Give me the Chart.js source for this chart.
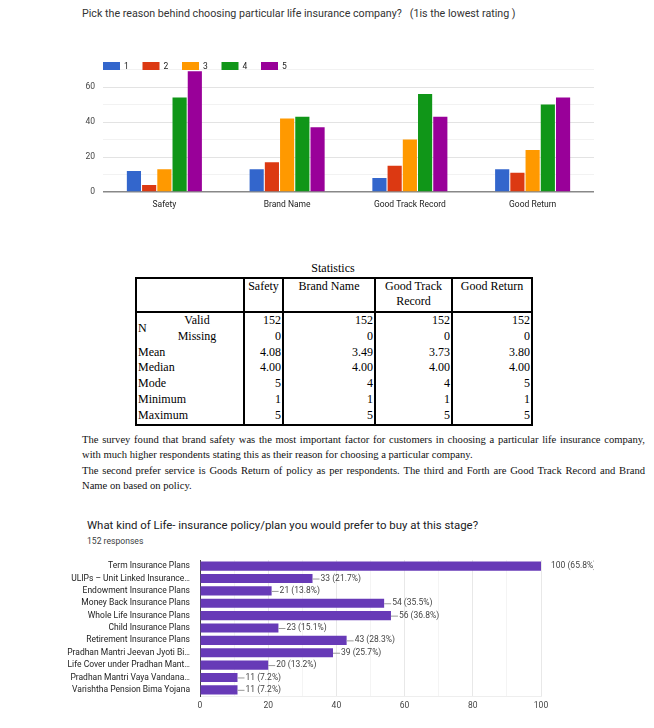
<!DOCTYPE html>
<html>
<head>
<meta charset="utf-8">
<script src="https://cdn.jsdelivr.net/npm/chart.js@4.4.1/dist/chart.umd.min.js"></script>
<style>
    body {
        margin: 0;
        width: 654px;
        height: 728px;
        position: relative;
        overflow: hidden;
        background: #fff;
        font-family: Roboto, sans-serif;
    }

    #rating-title {
        position: absolute;
        left: 82px;
        top: 7px;
        font-size: 10.7px;
        color: #333;
        white-space: pre;
    }

    #rating-chart {
        position: absolute;
        left: 60px;
        top: 40px;
    }

    #stats-caption {
        position: absolute;
        left: 135px;
        width: 396px;
        top: 261px;
        text-align: center;
        font: 12px "Liberation Serif", serif;
    }

    #stats {
        position: absolute;
        left: 135px;
        top: 277px;
        width: 396px;
        border-collapse: collapse;
        border: 2px solid #000;
        font: 12px "Liberation Serif", serif;
        table-layout: fixed;
    }

    #stats td {
        padding: 0 1px;
        height: 15.8px;
        line-height: 15.8px;
        text-align: right;
        vertical-align: middle;
    }

    #stats thead td {
        text-align: center;
        vertical-align: top;
        line-height: 15px;
        height: 32px;
        padding-top: 0;
        border-bottom: 2px solid #000;
    }

    #stats .sep {
        border-left: 2px solid #000;
    }

    #stats td.lbl {
        text-align: left;
    }

    #stats td.sub {
        text-align: center;
    }

    #summary {
        position: absolute;
        left: 82px;
        top: 432px;
        width: 563px;
        font: 10.6px "Liberation Serif", serif;
        line-height: 15.3px;
        color: #111;
    }

    #summary span {
        display: block;
        white-space: nowrap;
    }

    #summary .just {
        text-align: justify;
        text-align-last: justify;
    }

    #plan-title {
        position: absolute;
        left: 87px;
        top: 518px;
        font-size: 11.4px;
        color: #202124;
    }

    #plan-count {
        position: absolute;
        left: 87px;
        top: 536px;
        font-size: 8.6px;
        color: #3c4043;
    }

    #plan-chart {
        position: absolute;
        left: 60px;
        top: 552px;
    }
</style>
</head>
<body>

<div id="rating-title">Pick the reason behind choosing particular life insurance company?   (1is the lowest rating )</div>
<canvas id="rating-chart" width="540" height="180"></canvas>

<div id="stats-caption">Statistics</div>
<table id="stats">
    <colgroup>
        <col style="width:15px">
        <col style="width:93px">
        <col style="width:39px">
        <col style="width:92px">
        <col style="width:77px">
        <col style="width:80px">
    </colgroup>
    <thead>
        <tr>
            <td colspan="2"></td>
            <td class="sep">Safety</td>
            <td class="sep">Brand Name</td>
            <td class="sep">Good Track Record</td>
            <td class="sep">Good Return</td>
        </tr>
    </thead>
    <tbody>
        <tr>
            <td class="lbl" rowspan="2">N</td>
            <td class="sub">Valid</td>
            <td class="sep">152</td><td class="sep">152</td><td class="sep">152</td><td class="sep">152</td>
        </tr>
        <tr>
            <td class="sub">Missing</td>
            <td class="sep">0</td><td class="sep">0</td><td class="sep">0</td><td class="sep">0</td>
        </tr>
        <tr>
            <td class="lbl" colspan="2">Mean</td>
            <td class="sep">4.08</td><td class="sep">3.49</td><td class="sep">3.73</td><td class="sep">3.80</td>
        </tr>
        <tr>
            <td class="lbl" colspan="2">Median</td>
            <td class="sep">4.00</td><td class="sep">4.00</td><td class="sep">4.00</td><td class="sep">4.00</td>
        </tr>
        <tr>
            <td class="lbl" colspan="2">Mode</td>
            <td class="sep">5</td><td class="sep">4</td><td class="sep">4</td><td class="sep">5</td>
        </tr>
        <tr>
            <td class="lbl" colspan="2">Minimum</td>
            <td class="sep">1</td><td class="sep">1</td><td class="sep">1</td><td class="sep">1</td>
        </tr>
        <tr>
            <td class="lbl" colspan="2">Maximum</td>
            <td class="sep">5</td><td class="sep">5</td><td class="sep">5</td><td class="sep">5</td>
        </tr>
    </tbody>
</table>

<div id="summary">
    <span class="just">The survey found that brand safety was the most important factor for customers in choosing a particular life insurance company,</span>
    <span>with much higher respondents stating this as their reason for choosing a particular company.</span>
    <span class="just">The second prefer service is Goods Return of policy as per respondents. The third and Forth are Good Track Record and Brand</span>
    <span>Name on based on policy.</span>
</div>

<div id="plan-title">What kind of Life- insurance policy/plan you would prefer to buy at this stage?</div>
<div id="plan-count">152 responses</div>
<canvas id="plan-chart" width="534" height="168"></canvas>

<script>
// rating question: counts per rating for each factor
const factors = ["Safety", "Brand Name", "Good Track Record", "Good Return"];
const ratingNames = ["1", "2", "3", "4", "5"];
const rating1 = [12, 13, 8, 13];
const rating2 = [4, 17, 15, 11];
const rating3 = [13, 42, 30, 24];
const rating4 = [54, 43, 56, 50];
const rating5 = [69, 37, 43, 54];
const ratingColors = ["#3366cc", "#dc3912", "#ff9900", "#109618", "#990099"];
const ratingTicks = [0, 20, 40, 60];

// plan question
const planLabels = [
    "Term Insurance Plans",
    "ULIPs \u2013 Unit Linked Insurance\u2026",
    "Endowment Insurance Plans",
    "Money Back Insurance Plans",
    "Whole Life Insurance Plans",
    "Child Insurance Plans",
    "Retirement Insurance Plans",
    "Pradhan Mantri Jeevan Jyoti Bi\u2026",
    "Life Cover under Pradhan Mant\u2026",
    "Pradhan Mantri Vaya Vandana\u2026",
    "Varishtha Pension Bima Yojana"
];
const planCounts = [100, 33, 21, 54, 56, 23, 43, 39, 20, 11, 11];
const planPercents = ["65.8", "21.7", "13.8", "35.5", "36.8", "15.1", "28.3", "25.7", "13.2", "7.2", "7.2"];
const planTicks = [0, 20, 40, 60, 80, 100];

Chart.defaults.font.family = "Roboto";
Chart.defaults.font.size = 8.5;
Chart.defaults.color = "#444";

const ratingLegend = {
    id: "ratingLegend",
    afterDraw(chart) {
        const ctx = chart.ctx;
        const left = chart.chartArea.left;
        ctx.save();
        ctx.font = "8.5px Roboto";
        ctx.textBaseline = "middle";
        chart.data.datasets.forEach((ds, i) => {
            const x = left + i * 39.5;
            ctx.fillStyle = ds.backgroundColor;
            ctx.fillRect(x, 22, 17, 8);
            ctx.fillStyle = "#222";
            ctx.fillText(ds.label, x + 21, 26.5);
        });
        ctx.restore();
    }
};

const planValueLabels = {
    id: "planValueLabels",
    afterDatasetsDraw(chart) {
        const ctx = chart.ctx;
        const meta = chart.getDatasetMeta(0);
        const top = Math.max(...planCounts);
        ctx.save();
        ctx.font = "8.5px Roboto";
        ctx.textBaseline = "middle";
        meta.data.forEach((bar, i) => {
            const text = `${planCounts[i]} (${planPercents[i]}%)`;
            if (planCounts[i] === top) {
                ctx.fillStyle = "#444";
                ctx.fillText(text, bar.x + 10, bar.y);
                return;
            }
            ctx.strokeStyle = "#999";
            ctx.lineWidth = 1;
            ctx.beginPath();
            ctx.moveTo(bar.x, bar.y + 0.5);
            ctx.lineTo(bar.x + 7, bar.y + 0.5);
            ctx.stroke();
            ctx.fillStyle = "#444";
            ctx.fillText(text, bar.x + 8, bar.y);
        });
        ctx.restore();
    }
};

const ratingGraphic = () => {
    const ctx = document.getElementById("rating-chart").getContext("2d");
    const series = [rating1, rating2, rating3, rating4, rating5];

    new Chart(ctx, {
        type: "bar",
        data: {
            labels: factors,
            datasets: series.map((data, i) => ({
                label: ratingNames[i],
                data,
                backgroundColor: ratingColors[i],
                borderWidth: 0,
                categoryPercentage: 0.62,
                barPercentage: 0.93
            }))
        },
        options: {
            responsive: false,
            animation: false,
            layout: {
                padding: { top: 29.5, right: 6, left: 0, bottom: 0 }
            },
            plugins: {
                legend: { display: false },
                tooltip: { enabled: false }
            },
            scales: {
                x: {
                    grid: { display: false },
                    border: { display: false },
                    ticks: { color: "#222", padding: 0 },
                    afterFit: scale => { scale.height = 28; }
                },
                y: {
                    min: 0,
                    max: 70,
                    border: { display: false },
                    grid: {
                        color: c => c.tick.value === 0 ? "#888" : (c.tick.value % 20 === 0 ? "#e3e3e3" : "#f2f2f2"),
                        lineWidth: c => c.tick.value === 0 ? 1.5 : 1,
                        drawTicks: false
                    },
                    ticks: {
                        stepSize: 10,
                        padding: 8,
                        callback: v => ratingTicks.includes(v) ? v : ""
                    },
                    afterFit: scale => { scale.width = 43; }
                }
            }
        },
        plugins: [ratingLegend]
    });
}

const planGraphic = () => {
    const ctx = document.getElementById("plan-chart").getContext("2d");

    new Chart(ctx, {
        type: "bar",
        data: {
            labels: planLabels,
            datasets: [{
                label: "Responses",
                data: planCounts,
                backgroundColor: "#673ab7",
                borderWidth: 0,
                categoryPercentage: 0.74,
                barPercentage: 1
            }]
        },
        options: {
            indexAxis: "y",
            responsive: false,
            animation: false,
            layout: {
                padding: { top: 8, right: 53, left: 0, bottom: 0 }
            },
            plugins: {
                legend: { display: false },
                tooltip: { enabled: false }
            },
            scales: {
                x: {
                    min: 0,
                    max: 100,
                    border: { color: "#eee" },
                    grid: {
                        color: c => c.tick.value % 20 === 0 ? "#e8e8e8" : "#f4f4f4",
                        drawTicks: false
                    },
                    ticks: {
                        stepSize: 10,
                        padding: 5,
                        callback: v => planTicks.includes(v) ? v : ""
                    },
                    afterFit: scale => { scale.height = 24; }
                },
                y: {
                    grid: { display: false },
                    border: { color: "#444" },
                    ticks: { color: "#222", padding: 2, autoSkip: false },
                    afterFit: scale => { scale.width = 140; }
                }
            }
        },
        plugins: [planValueLabels]
    });
}

window.onload = () => {
    ratingGraphic();
    planGraphic();
};
</script>
</body>
</html>
